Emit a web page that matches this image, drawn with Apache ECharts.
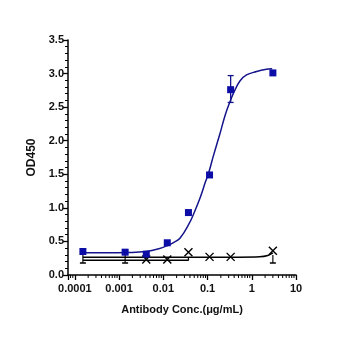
<!DOCTYPE html>
<html><head><meta charset="utf-8">
<script src="https://cdn.jsdelivr.net/npm/echarts@6/dist/echarts.min.js"></script>
<style>html,body{margin:0;padding:0;background:#fff}#c{width:350px;height:350px}</style>
</head><body><div id="c"></div>
<script>
// concentrations (µg/mL)
const conc = [0.000152, 0.00137, 0.00412, 0.0123, 0.037, 0.111, 0.333, 3];
// blue series (squares)
const blueVals = [0.35, 0.34, 0.31, 0.48, 0.93, 1.49, 2.76, 3.01];
// blue error bar (at 0.333)
const blueErr = [[0.333, 2.57, 2.97]];
// blue fitted curve
const blueCurveX = [0.000151, 0.0005, 0.00158, 0.004, 0.0079, 0.0126, 0.0178, 0.024, 0.038, 0.05, 0.068, 0.089, 0.107, 0.135, 0.19, 0.25, 0.33, 0.4, 0.54, 0.76, 1.29, 2.0, 2.9];
const blueCurveY = [0.33, 0.33, 0.335, 0.35, 0.39, 0.44, 0.49, 0.55, 0.76, 0.93, 1.15, 1.38, 1.53, 1.77, 2.1, 2.38, 2.6, 2.73, 2.89, 2.98, 3.03, 3.06, 3.07];
// black "X" series
const xConc = [0.00412, 0.0123, 0.037, 0.111, 0.333, 3];
const xVals = [0.23, 0.23, 0.34, 0.27, 0.27, 0.36];
// black "T" series
const tConc = [0.000152, 0.00137, 3];
const tVals = [0.24, 0.24, 0.24];
// black fit lines
const blackA_X = [0.000152, 0.037, 0.5, 1.5, 2.3, 3];
const blackA_Y = [0.265, 0.265, 0.265, 0.27, 0.29, 0.33];
const blackB_X = [0.000152, 0.037, 0.037];
const blackB_Y = [0.22, 0.22, 0.265];
// axis tick labels
const xTickLabels = ['0.0001', '0.001', '0.01', '0.1', '1', '10'];
const xMinorTicks = [0.00008, 0.00009,
  0.0002,0.0003,0.0004,0.0005,0.0006,0.0007,0.0008,0.0009,
  0.002,0.003,0.004,0.005,0.006,0.007,0.008,0.009,
  0.02,0.03,0.04,0.05,0.06,0.07,0.08,0.09,
  0.2,0.3,0.4,0.5,0.6,0.7,0.8,0.9,
  2,3,4,5,6,7,8,9];
const yTickLabels = ['0.0','0.5','1.0','1.5','2.0','2.5','3.0','3.5'];

const zip = (a, b) => a.map((v, i) => [v, b[i]]);
const FONT = 'Liberation Sans';
const BLUE = '#0c0ca6';

const chart = echarts.init(document.getElementById('c'), null, {renderer: 'canvas'});
chart.setOption({
  animation: false,
  backgroundColor: '#fff',
  grid: {left: 68, right: 54, top: 40, bottom: 75},
  xAxis: {
    type: 'log', min: 0.00007, max: 10, logBase: 10,
    name: 'Antibody Conc.(μg/mL)', nameLocation: 'middle', nameGap: 29,
    nameTextStyle: {fontFamily: FONT, fontWeight: 'bold', fontSize: 11, color: '#111'},
    axisLine: {lineStyle: {color: '#000', width: 1.5}},
    axisTick: {length: 5, lineStyle: {color: '#000', width: 1.3}},
    splitLine: {show: false},
    axisLabel: {
      margin: 8, fontFamily: FONT, fontWeight: 'bold', fontSize: 11, color: '#111',
      showMinLabel: true,
      formatter: v => {
        const l = Math.log10(v);
        if (Math.abs(l - Math.round(l)) > 1e-6) return '';
        const idx = Math.round(l) + 4;
        return xTickLabels[idx] || '';
      }
    }
  },
  yAxis: {
    type: 'value', min: 0, max: 3.5, interval: 0.5,
    name: 'OD450', nameLocation: 'middle', nameGap: 26, nameRotate: 90,
    nameTextStyle: {fontFamily: FONT, fontWeight: 'bold', fontSize: 12, color: '#111'},
    axisLine: {show: true, lineStyle: {color: '#000', width: 1.5}},
    axisTick: {show: true, length: 5, lineStyle: {color: '#000', width: 1.3}},
    minorTick: {show: true, splitNumber: 5, length: 3, lineStyle: {color: '#000', width: 1}},
    splitLine: {show: false},
    axisLabel: {
      margin: 4, fontFamily: FONT, fontWeight: 'bold', fontSize: 11, color: '#111',
      formatter: v => yTickLabels[Math.round(v / 0.5)]
    }
  },
  series: [
    {
      type: 'custom', name: 'xminor', silent: true, clip: false, z: 1,
      data: xMinorTicks.map(v => [v, 0]),
      renderItem: (params, api) => {
        const p = api.coord([api.value(0), 0]);
        return {type: 'line', shape: {x1: p[0], y1: p[1], x2: p[0], y2: p[1] + 3},
          style: {stroke: '#000', lineWidth: 1}};
      }
    },
    {
      type: 'line', name: 'blackA', data: zip(blackA_X, blackA_Y), smooth: 0.3,
      symbol: 'none', lineStyle: {color: '#000', width: 1.5}, z: 2
    },
    {
      type: 'line', name: 'blackB', data: zip(blackB_X, blackB_Y),
      symbol: 'none', lineStyle: {color: '#000', width: 1.3}, z: 2
    },
    {
      type: 'scatter', name: 'T', data: zip(tConc, tVals),
      symbol: 'path://M5,0L5,10M2,10L8,10', symbolSize: [6, 8],
      itemStyle: {color: 'none', borderColor: '#000', borderWidth: 1.3, opacity: 1}, z: 3
    },
    {
      type: 'scatter', name: 'X', data: zip(xConc, xVals),
      symbol: 'path://M0,0L10,10M10,0L0,10', symbolSize: 8,
      itemStyle: {color: 'none', borderColor: '#000', borderWidth: 1.4, opacity: 1}, z: 3
    },
    {
      type: 'line', name: 'blueCurve', data: zip(blueCurveX, blueCurveY), smooth: 0.4,
      symbol: 'none', lineStyle: {color: '#14148c', width: 1.5}, z: 4
    },
    {
      type: 'custom', name: 'blueErr', data: blueErr, z: 5,
      renderItem: (params, api) => {
        const x = api.value(0), lo = api.value(1), hi = api.value(2);
        const a = api.coord([x, lo]), b = api.coord([x, hi]);
        const st = {stroke: '#14148c', lineWidth: 1.3};
        return {type: 'group', children: [
          {type: 'line', shape: {x1: a[0], y1: a[1], x2: b[0], y2: b[1]}, style: st},
          {type: 'line', shape: {x1: a[0] - 3, y1: a[1], x2: a[0] + 3, y2: a[1]}, style: st},
          {type: 'line', shape: {x1: b[0] - 3, y1: b[1], x2: b[0] + 3, y2: b[1]}, style: st}
        ]};
      }
    },
    {
      type: 'scatter', name: 'blue', data: zip(conc, blueVals),
      symbol: 'rect', symbolSize: 7, itemStyle: {color: BLUE, opacity: 1}, z: 6
    }
  ]
});
</script></body></html>
